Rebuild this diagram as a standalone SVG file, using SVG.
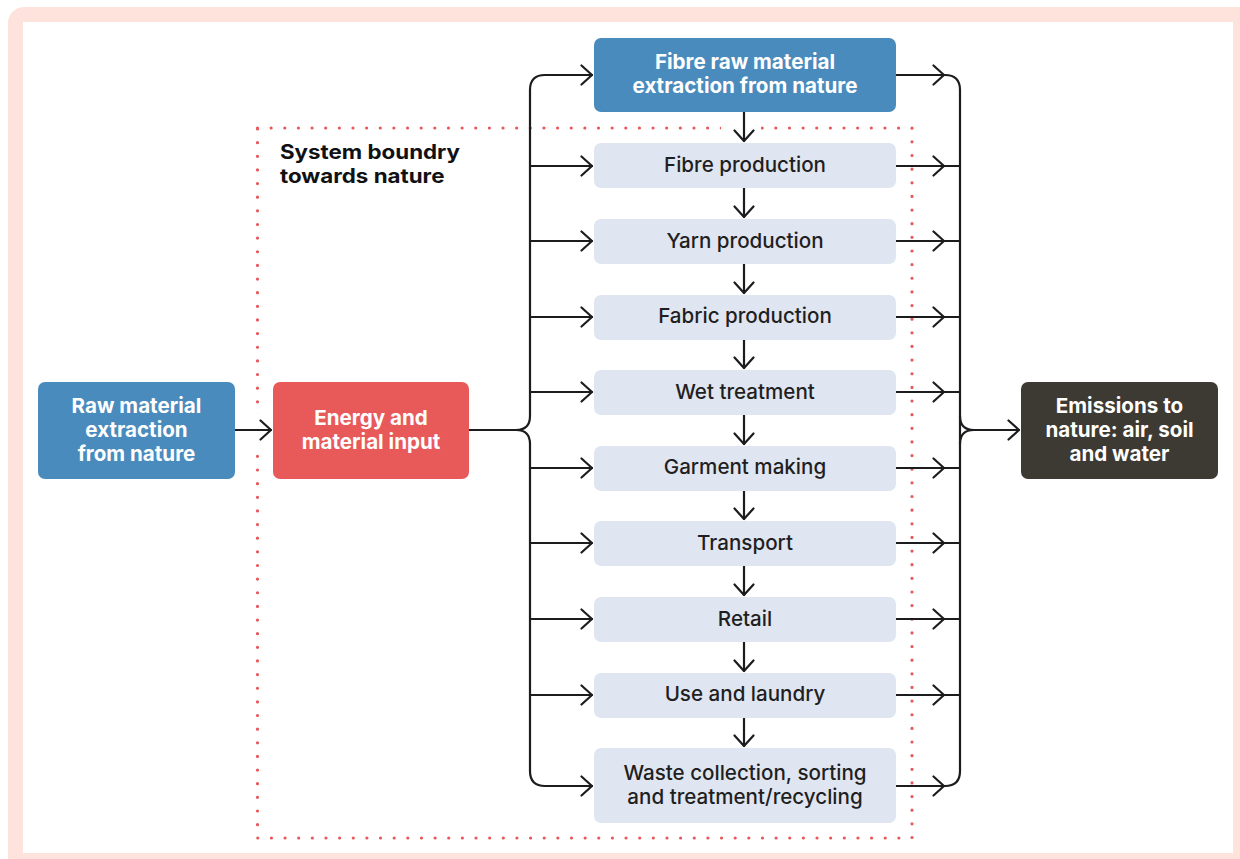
<svg xmlns="http://www.w3.org/2000/svg" width="1240" height="859" viewBox="0 0 1240 859">
<defs>
<style>
.lbl{font-family:Inter,"Liberation Sans",sans-serif;font-size:20.6px;text-anchor:middle}
.w{fill:#ffffff;font-weight:700}
.d{fill:#1f1f22;font-weight:500}
.step{fill:#dfe5f1}
.blue{fill:#4a8bbd}
.conn{fill:none;stroke:#1c1c1e;stroke-width:2.2;stroke-linecap:round;stroke-linejoin:round}
</style>
<marker id="ah" viewBox="0 0 14 22" refX="12" refY="11" markerWidth="14" markerHeight="22" markerUnits="userSpaceOnUse" orient="auto">
<path d="M1.5,1.5 L12,11 L1.5,20.5" fill="none" stroke="#1c1c1e" stroke-width="2.2" stroke-linecap="round" stroke-linejoin="round"/>
</marker>
</defs>
<rect x="0" y="0" width="1240" height="859" fill="#ffffff"/>
<rect x="8" y="7" width="1250" height="870" rx="16" fill="#fde3dc"/>
<rect x="23" y="22" width="1210" height="831" fill="#ffffff"/>

<g id="boundary">
<path d="M257.5,128 H912 V838 H257.5 Z" fill="none" stroke="#e8585a" stroke-width="3.2" stroke-linecap="round" stroke-dasharray="0 13.64"/>
<rect x="721" y="122" width="40" height="12" fill="#ffffff"/>
<rect x="251" y="414" width="13" height="40" fill="#ffffff"/>
<text transform="translate(280,0) scale(1.14,1)" font-family="Inter,'Liberation Sans',sans-serif" font-size="19.6" font-weight="700" fill="#111114"><tspan x="0" y="159.5">System boundry</tspan><tspan x="0" y="183.5">towards nature</tspan></text>
</g>

<g id="connectors" class="conn">
<path d="M235,430 H271" marker-end="url(#ah)"/>
<path d="M469,430 H516 Q530,430 530,416 V90 Q530,75 545,75 H592" marker-end="url(#ah)"/>
<path d="M516,430 Q530,430 530,444 V771 Q530,786 545,786 H592" marker-end="url(#ah)"/>
<path d="M530,166 H592" marker-end="url(#ah)"/>
<path d="M530,241 H592" marker-end="url(#ah)"/>
<path d="M530,317 H592" marker-end="url(#ah)"/>
<path d="M530,392 H592" marker-end="url(#ah)"/>
<path d="M530,468 H592" marker-end="url(#ah)"/>
<path d="M530,543 H592" marker-end="url(#ah)"/>
<path d="M530,619 H592" marker-end="url(#ah)"/>
<path d="M530,695 H592" marker-end="url(#ah)"/>
<path d="M744,112 V141" marker-end="url(#ah)"/>
<path d="M744,188 V217" marker-end="url(#ah)"/>
<path d="M744,264 V293" marker-end="url(#ah)"/>
<path d="M744,340 V368" marker-end="url(#ah)"/>
<path d="M744,415 V444" marker-end="url(#ah)"/>
<path d="M744,491 V519" marker-end="url(#ah)"/>
<path d="M744,566 V595" marker-end="url(#ah)"/>
<path d="M744,642 V671" marker-end="url(#ah)"/>
<path d="M744,718 V746" marker-end="url(#ah)"/>
<path d="M896,75 H944" marker-end="url(#ah)"/>
<path d="M896,166 H944" marker-end="url(#ah)"/>
<path d="M896,241 H944" marker-end="url(#ah)"/>
<path d="M896,317 H944" marker-end="url(#ah)"/>
<path d="M896,392 H944" marker-end="url(#ah)"/>
<path d="M896,468 H944" marker-end="url(#ah)"/>
<path d="M896,543 H944" marker-end="url(#ah)"/>
<path d="M896,619 H944" marker-end="url(#ah)"/>
<path d="M896,695 H944" marker-end="url(#ah)"/>
<path d="M896,786 H944" marker-end="url(#ah)"/>
<path d="M940,75 H945 Q960,75 960,90 V771 Q960,786 945,786 H940"/>
<path d="M896,166 H960 M896,241 H960 M896,317 H960 M896,392 H960 M896,468 H960 M896,543 H960 M896,619 H960 M896,695 H960"/>
<path d="M960,416 Q960,430 974,430 H1019" marker-end="url(#ah)"/>
<path d="M960,444 Q960,430 974,430"/>
</g>

<g id="raw-material">
<rect class="blue" x="38" y="382" width="197" height="97" rx="7"/>
<text class="lbl w" x="136.5" y="413">Raw material</text>
<text class="lbl w" x="136.5" y="437">extraction</text>
<text class="lbl w" x="136.5" y="461">from nature</text>
</g>
<g id="energy-input">
<rect x="273" y="382" width="196" height="97" rx="7" fill="#e85a5a"/>
<text class="lbl w" x="371" y="425">Energy and</text>
<text class="lbl w" x="371" y="449">material input</text>
</g>
<g id="fibre-raw">
<rect class="blue" x="594" y="38" width="302" height="74" rx="7"/>
<text class="lbl w" x="745" y="69">Fibre raw material</text>
<text class="lbl w" x="745" y="93">extraction from nature</text>
</g>
<g id="fibre-production">
<rect class="step" x="594" y="143" width="302" height="45" rx="7"/>
<text class="lbl d" x="745" y="172">Fibre production</text>
</g>
<g id="yarn-production">
<rect class="step" x="594" y="219" width="302" height="45" rx="7"/>
<text class="lbl d" x="745" y="248">Yarn production</text>
</g>
<g id="fabric-production">
<rect class="step" x="594" y="295" width="302" height="45" rx="7"/>
<text class="lbl d" x="745" y="323">Fabric production</text>
</g>
<g id="wet-treatment">
<rect class="step" x="594" y="370" width="302" height="45" rx="7"/>
<text class="lbl d" x="745" y="399">Wet treatment</text>
</g>
<g id="garment-making">
<rect class="step" x="594" y="446" width="302" height="45" rx="7"/>
<text class="lbl d" x="745" y="474">Garment making</text>
</g>
<g id="transport">
<rect class="step" x="594" y="521" width="302" height="45" rx="7"/>
<text class="lbl d" x="745" y="550">Transport</text>
</g>
<g id="retail">
<rect class="step" x="594" y="597" width="302" height="45" rx="7"/>
<text class="lbl d" x="745" y="626">Retail</text>
</g>
<g id="use-laundry">
<rect class="step" x="594" y="673" width="302" height="45" rx="7"/>
<text class="lbl d" x="745" y="701">Use and laundry</text>
</g>
<g id="waste">
<rect class="step" x="594" y="748" width="302" height="75" rx="7"/>
<text class="lbl d" x="745" y="780">Waste collection, sorting</text>
<text class="lbl d" x="745" y="804">and treatment/recycling</text>
</g>
<g id="emissions">
<rect x="1021" y="382" width="197" height="97" rx="7" fill="#3d3a33"/>
<text class="lbl w" x="1119.5" y="413">Emissions to</text>
<text class="lbl w" x="1119.5" y="437">nature: air, soil</text>
<text class="lbl w" x="1119.5" y="461">and water</text>
</g>
</svg>
